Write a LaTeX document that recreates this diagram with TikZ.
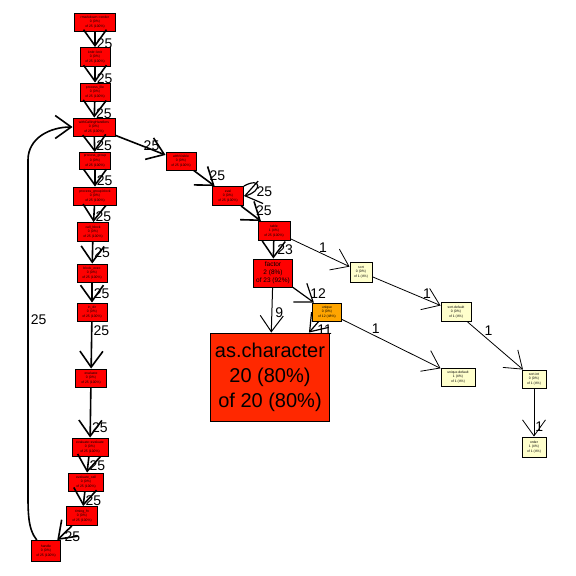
\documentclass[tikz,border=0pt]{standalone}
\usepackage{fontspec}
\setmainfont{Liberation Sans}
\usetikzlibrary{arrows.meta}

\definecolor{hotred}{RGB}{255,0,0}
\definecolor{chared}{RGB}{255,40,0}
\definecolor{warm}{RGB}{255,165,0}
\definecolor{cool}{RGB}{255,255,204}

\begin{document}
\begin{tikzpicture}[x=1pt, y=-1pt,
fn/.style={rectangle, draw=black, line width=0.9pt, inner sep=0pt, align=center, font=\fontsize{3.4}{4.6}\selectfont},
hot/.style={fn, fill=hotred},
mid/.style={fn, fill=warm},
cold/.style={fn, fill=cool},
box/.style 2 args={minimum width=#1pt, minimum height=#2pt},
path/.style={-{Straight Barb[length=16pt, width=23pt, line width=#1]}, line width=#1},
path/.default=1.6pt,
lbl/.style={font=\fontsize{14}{14}\selectfont, inner sep=1pt},
]
\useasboundingbox (0,0) rectangle (576,576);

%Nodes
\node [hot, box={41}{18}] (rmk) at (95,22) {rmarkdown::render\\0 (0\%)\\of 25 (100\%)};
\node [hot, box={30}{19}] (knit) at (95,57) {knitr::knit\\0 (0\%)\\of 25 (100\%)};
\node [hot, box={30}{18}] (pfile) at (95,92) {process\_file\\0 (0\%)\\of 25 (100\%)};
\node [hot, box={42}{18}] (wch) at (94,127) {withCallingHandlers\\0 (0\%)\\of 25 (100\%)};
\node [hot, box={31}{17}] (pgroup) at (95,161) {process\_group\\0 (0\%)\\of 25 (100\%)};
\node [hot, box={43}{18}] (pgblock) at (95,196) {process\_group.block\\0 (0\%)\\of 25 (100\%)};
\node [hot, box={31}{19}] (cblock) at (93,232) {call\_block\\0 (0\%)\\of 25 (100\%)};
\node [hot, box={30}{18}] (bexec) at (92,273) {block\_exec\\0 (0\%)\\of 25 (100\%)};
\node [hot, box={30}{18}] (indir) at (92,312) {in\_dir\\0 (0\%)\\of 25 (100\%)};
\node [hot, box={31}{18}] (evalt) at (91,378) {evaluate\\0 (0\%)\\of 25 (100\%)};
\node [hot, box={36}{18}] (evev) at (90,447) {evaluate::evaluate\\0 (0\%)\\of 25 (100\%)};
\node [hot, box={35}{18}] (evcall) at (86,482) {evaluate\_call\\0 (0\%)\\of 25 (100\%)};
\node [hot, box={31}{19}] (timing) at (82,516) {timing\_fn\\0 (0\%)\\of 25 (100\%)};
\node [hot, box={29}{21}] (handle) at (46,551) {handle\\0 (0\%)\\of 25 (100\%)};

\node [hot, box={30}{18}] (wvis) at (181,161) {withVisible\\0 (0\%)\\of 25 (100\%)};
\node [hot, box={31}{19}] (eval) at (228,196) {eval\\0 (0\%)\\of 25 (100\%)};
\node [hot, box={32}{19}] (table) at (274,231) {table\\1 (4\%)\\of 25 (100\%)};
\node [hot, box={39}{28}, font=\fontsize{6.5}{8}\selectfont] (factor) at (273,273) {factor\\2 (8\%)\\of 23 (92\%)};
\node [mid, box={29}{18}] (unique) at (327,312) {unique\\0 (0\%)\\of 12 (48\%)};
\node [fn, fill=chared, box={119}{88}, font=\fontsize{20}{25}\selectfont] (aschar) at (270,377) {as.character\\20 (80\%)\\of 20 (80\%)};
\node [cold, box={22}{20}] (sort) at (361,272) {sort\\0 (0\%)\\of 1 (4\%)};
\node [cold, box={30}{19}] (sortdef) at (456,312) {sort.default\\0 (0\%)\\of 1 (4\%)};
\node [cold, box={34}{18}] (uniqdef) at (458,377) {unique.default\\1 (4\%)\\of 1 (4\%)};
\node [cold, box={24}{18}] (sortint) at (534,379) {sort.int\\0 (0\%)\\of 1 (4\%)};
\node [cold, box={24}{20}] (order) at (534,447) {order\\1 (4\%)\\of 1 (4\%)};

% Paths
\draw [path] (rmk) to node[lbl, pos=0.8, right] {25} (knit);
\draw [path] (knit) to node[lbl, pos=0.76, right] {25} (pfile);
\draw [path] (pfile) to node[lbl, pos=0.76, right] {25} (wch);
\draw [path] (wch) to node[lbl, pos=0.6, right] {25} (pgroup);
\draw [path] (pgroup) to node[lbl, pos=0.65, right] {25} (pgblock);
\draw [path] (pgblock) to node[lbl, pos=0.65, right] {25} (cblock);
\draw [path] (cblock) to node[lbl, pos=0.5, right] {25} (bexec);
\draw [path] (bexec) to node[lbl, pos=0.57, right] {25} (indir);
\draw [path] (indir) to node[lbl, pos=0.2, right] {25} (evalt);
\draw [path] (evalt) to node[lbl, pos=0.8, right] {25} (evev);
\draw [path] (evev) to node[lbl, pos=0.6, right] {25} (evcall);
\draw [path] (evcall) to node[lbl, pos=0.6, right] {25} (timing);
\draw [path] (timing) to node[lbl, pos=0.75, right=2pt] {25} (handle);
\draw [path] (handle.130) .. controls (27,528) and (28,510) .. (28,480)
  -- node[lbl, pos=0.5, right=1pt] {25} (28,160) .. controls (28,138) and (50,127) .. (wch.west);

\draw [path] (wch) to node[lbl, pos=0.72, yshift=4pt] {25} (wvis);
\draw [path] (wvis) to node[lbl, pos=0.72, above right=-1pt] {25} (eval);
\draw [path=1.2pt] (eval.north east) .. controls (262,176) and (262,192) .. node[lbl, pos=0.75, right=1pt] {25} (eval.east);
\draw [path] (eval) to node[lbl, pos=0.72, above right=-1pt] {25} (table);
\draw [path=1.5pt] (table) to node[lbl, pos=0.5, right=2pt] {23} (factor);
\draw [path=0.8pt] (table) to node[lbl, pos=0.55, above] {1} (sort);
\draw [path=1pt] (factor) to node[lbl, pos=0.55, right=2pt] {9} (aschar);
\draw [path=1.2pt] (factor) to node[lbl, pos=0.8, above right=-1pt] {12} (unique);
\draw [path=1.2pt] (unique) to node[lbl, pos=0.7, right=4pt] {11} (aschar);
\draw [path=0.8pt] (unique) to node[lbl, pos=0.3, above right=-1pt] {1} (uniqdef);
\draw [path=0.8pt] (sort) to node[lbl, pos=0.8, above] {1} (sortdef);
\draw [path=0.8pt] (sortdef) to node[lbl, pos=0.3, above right=-1pt] {1} (sortint);
\draw [path=0.8pt] (sortint) to node[lbl, pos=0.8, right] {1} (order);
\end{tikzpicture}
\end{document}
